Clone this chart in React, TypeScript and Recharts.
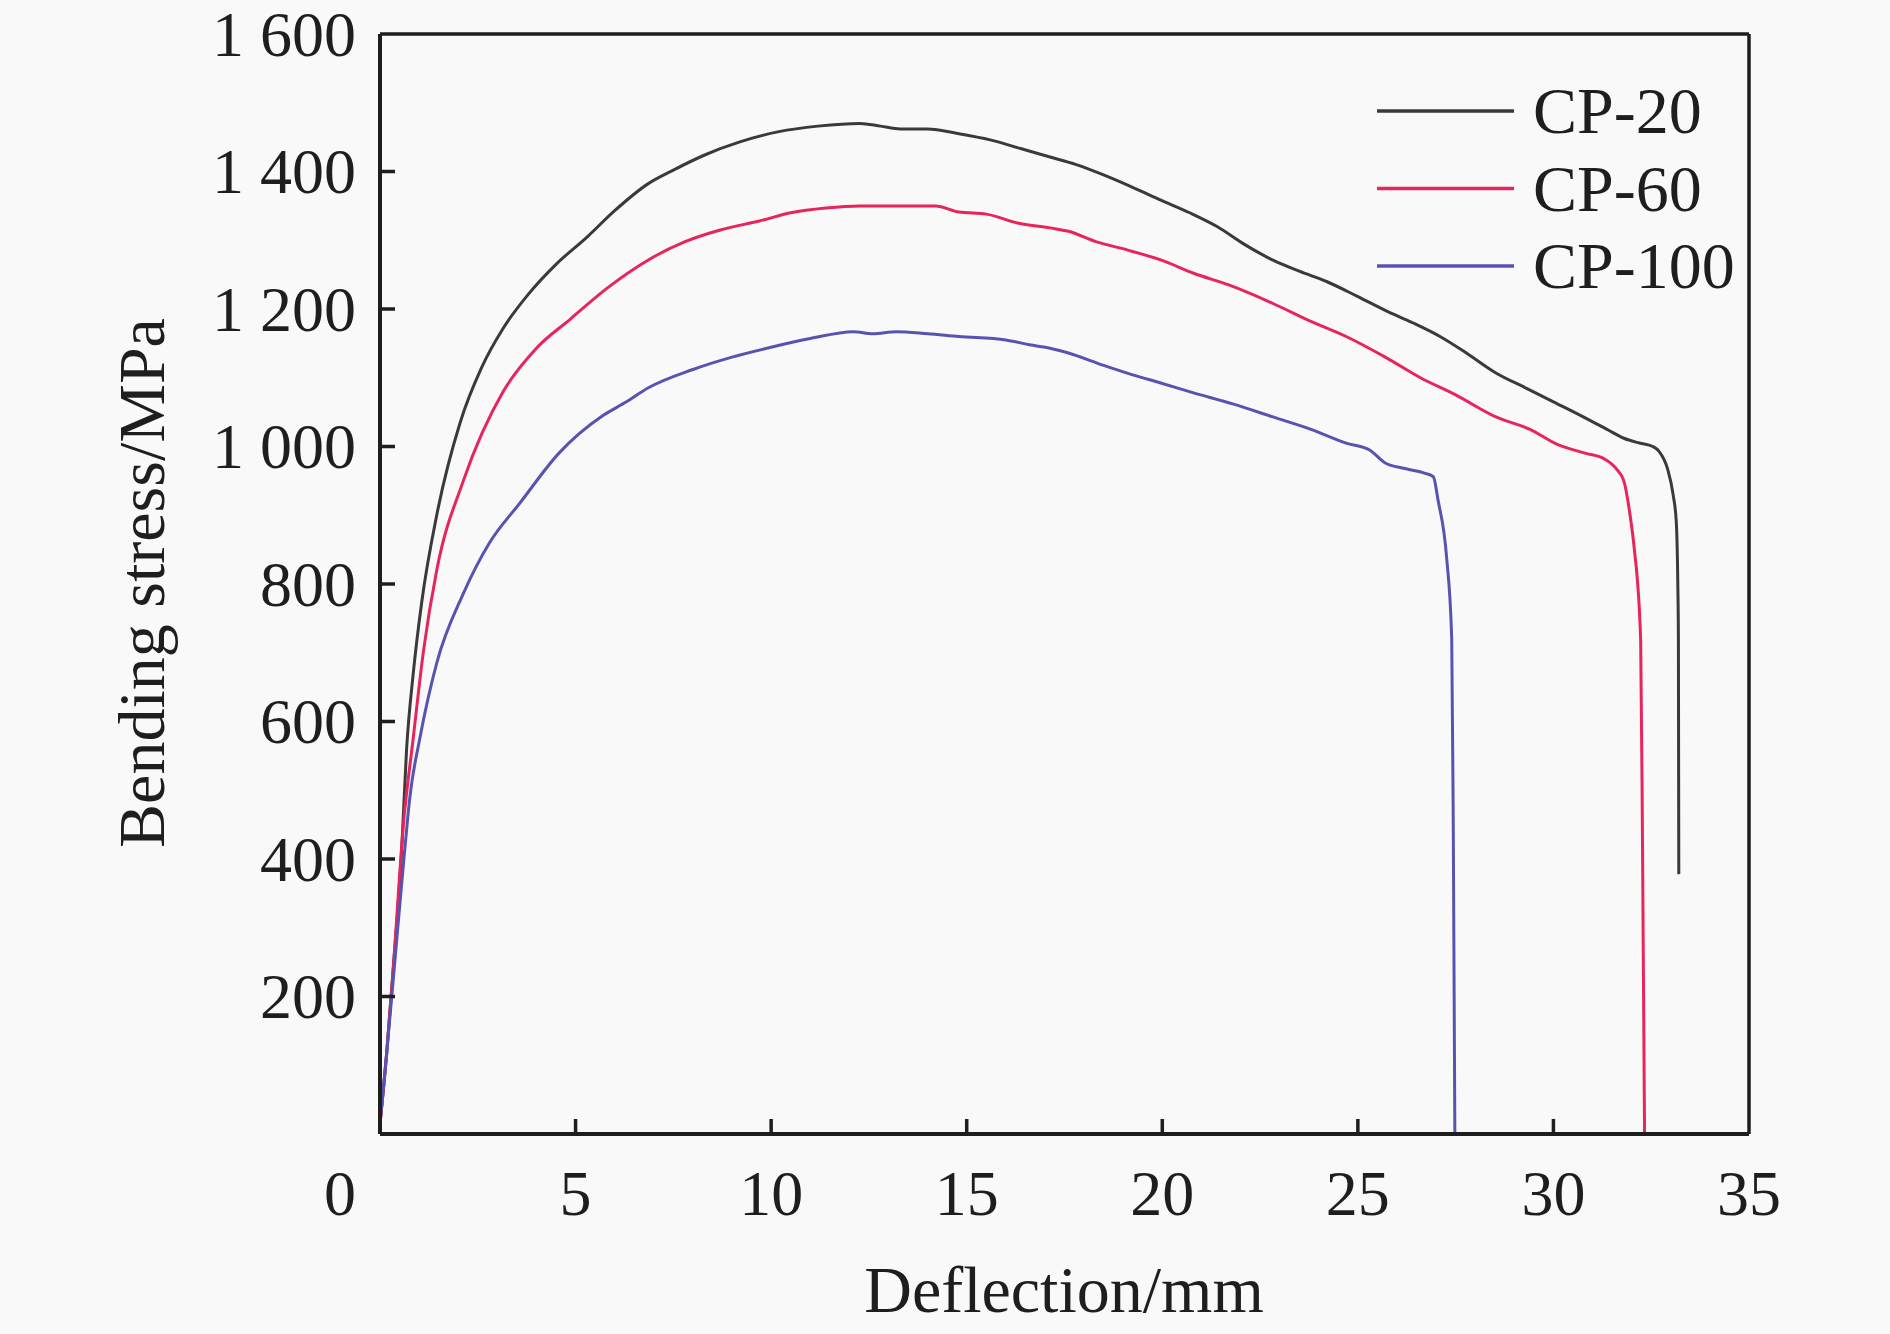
import React from "react";
import { LineChart, Line, XAxis, YAxis, ReferenceLine, Legend } from "recharts";

const xTicks = [0, 5, 10, 15, 20, 25, 30, 35];
const yTicks = [0, 200, 400, 600, 800, 1000, 1200, 1400, 1600];

const seriesNames = ["CP-20", "CP-60", "CP-100"];
const seriesColors = ["#3a3a3a", "#e8245c", "#5753b0"];

const cp20: [number, number][] = [
  [0, 15], [0.17, 117], [0.34, 242], [0.55, 409], [0.68, 560], [0.85, 670], [1.07, 775],
  [1.45, 900], [2.05, 1035], [2.6, 1115], [3.15, 1172], [3.8, 1222], [4.5, 1265], [5.3, 1305],
  [6.0, 1343], [6.85, 1382], [7.5, 1402], [8.3, 1424], [9.2, 1443], [10.2, 1458], [11.2, 1466],
  [12.27, 1470], [12.8, 1466], [13.3, 1462], [14.0, 1462], [14.8, 1455], [15.6, 1446],
  [16.4, 1433], [17.13, 1421], [17.8, 1410], [18.5, 1395], [19.2, 1378], [19.98, 1358],
  [20.7, 1340], [21.4, 1320], [22.1, 1294], [22.83, 1271], [23.5, 1255], [24.2, 1240],
  [25.0, 1218], [25.7, 1198], [26.4, 1180], [27.1, 1160], [27.8, 1135], [28.53, 1107],
  [29.3, 1085], [30.0, 1065], [30.7, 1045], [31.4, 1024], [31.8, 1012], [32.2, 1005],
  [32.54, 1000], [32.7, 993], [32.92, 967], [33.06, 930], [33.14, 891], [33.18, 800],
  [33.195, 720], [33.2, 550], [33.205, 378],
];

const cp60: [number, number][] = [
  [0, 15], [0.17, 117], [0.34, 242], [0.6, 451], [0.85, 576], [1.11, 702], [1.45, 820],
  [2.13, 950], [3.15, 1080], [4.0, 1143], [4.86, 1185], [5.8, 1230], [6.85, 1271], [7.8, 1298],
  [8.7, 1315], [9.7, 1328], [10.5, 1340], [11.4, 1347], [12.27, 1350], [13.2, 1350],
  [14.2, 1350], [14.8, 1341], [15.5, 1338], [16.3, 1325], [17.13, 1318], [17.6, 1313],
  [18.3, 1298], [19.1, 1286], [19.98, 1271], [20.8, 1252], [21.7, 1235], [22.83, 1208],
  [23.8, 1182], [24.7, 1160], [25.7, 1130], [26.6, 1100], [27.5, 1075], [28.53, 1043],
  [29.4, 1025], [30.1, 1003], [30.83, 990], [31.3, 982], [31.63, 966], [31.8, 950],
  [31.96, 900], [32.06, 855], [32.23, 720], [32.28, 400], [32.33, 0],
];

const cp100: [number, number][] = [
  [0, 15], [0.17, 117], [0.43, 284], [0.6, 393], [0.77, 493], [1.02, 576], [1.45, 685],
  [2.13, 786], [2.8, 860], [3.58, 918], [4.57, 990], [5.7, 1045], [6.3, 1065], [6.85, 1085],
  [8.0, 1112], [9.0, 1130], [9.97, 1144], [11.0, 1157], [12.1, 1167], [12.6, 1164],
  [13.2, 1167], [14.0, 1164], [14.8, 1160], [16.0, 1155], [16.6, 1148], [17.13, 1143],
  [17.6, 1136], [18.5, 1118], [19.2, 1105], [19.98, 1092], [20.8, 1078], [21.8, 1062],
  [22.83, 1043], [23.8, 1025], [24.7, 1005], [25.3, 995], [25.7, 976], [26.2, 968],
  [26.72, 961], [26.93, 956], [27.05, 922], [27.27, 838], [27.4, 720], [27.44, 442],
  [27.48, 0],
];

const toRows = (pts: [number, number][]) => pts.map(([x, y]) => ({ x, y }));
const seriesData = [toRows(cp20), toRows(cp60), toRows(cp100)];

const FONT = '"Liberation Serif", "Times New Roman", serif';
const INK = "#1e1e1e";

const fmtY = (v: number) =>
  v >= 1000 ? `${Math.floor(v / 1000)} ${String(v % 1000).padStart(3, "0")}` : String(v);

const YTick = (props: any) => {
  const { x, y, payload } = props;
  const v = payload.value;
  if (v === 0) return null;
  return (
    <g>
      {v !== 1600 && <line x1={x} x2={x + 15} y1={y} y2={y} stroke={INK} strokeWidth={3.5} />}
      <text x={x - 24} y={y} dy="0.34em" textAnchor="end" fontSize={64} fontFamily={FONT} fill={INK}>
        {fmtY(v)}
      </text>
    </g>
  );
};

const XTick = (props: any) => {
  const { x, y, payload } = props;
  const v = payload.value;
  return (
    <g>
      {v !== 0 && v !== 35 && <line x1={x} x2={x} y1={y} y2={y - 15} stroke={INK} strokeWidth={3.5} />}
      <text x={v === 0 ? x - 40 : x} y={y + 81} textAnchor="middle" fontSize={64} fontFamily={FONT} fill={INK}>
        {v}
      </text>
    </g>
  );
};

const LegendBox = () => (
  <svg width={420} height={240} style={{ display: "block" }}>
    {seriesNames.map((n, i) => (
      <g key={n}>
        <line x1={7} x2={144} y1={41 + i * 77.5} y2={41 + i * 77.5} stroke={seriesColors[i]} strokeWidth={3.5} />
        <text x={163} y={41 + i * 77.5} dy="0.34em" fontSize={66} fontFamily={FONT} fill={INK}>
          {n}
        </text>
      </g>
    ))}
  </svg>
);

export default function App() {
  return (
    <div style={{ position: "absolute", left: 0, top: 0, width: 1890, height: 1334, background: "#f9f9f9" }}>
      <LineChart
        width={1890}
        height={1334}
        margin={{ top: 34, right: 141, bottom: 199, left: 379 }}
      >
        <XAxis
          type="number"
          dataKey="x"
          domain={[0, 35]}
          ticks={xTicks}
          allowDataOverflow
          height={1}
          tickSize={0}
          tickMargin={0}
          tickLine={false}
          axisLine={{ stroke: INK, strokeWidth: 4 }}
          tick={<XTick />}
          interval={0}
        />
        <YAxis
          type="number"
          dataKey="y"
          domain={[0, 1600]}
          ticks={yTicks}
          allowDataOverflow
          width={1}
          tickSize={0}
          tickMargin={0}
          tickLine={false}
          axisLine={{ stroke: INK, strokeWidth: 4 }}
          tick={<YTick />}
          interval={0}
        />
        <ReferenceLine y={1600} stroke={INK} strokeWidth={3.5} ifOverflow="visible" />
        <ReferenceLine x={35} stroke={INK} strokeWidth={3.5} ifOverflow="visible" />
        {seriesNames.map((n, i) => (
          <Line
            key={n}
            name={n}
            data={seriesData[i]}
            dataKey="y"
            type="monotone"
            stroke={seriesColors[i]}
            strokeWidth={3}
            dot={false}
            activeDot={false}
            isAnimationActive={false}
          />
        ))}
        <Legend
          layout="vertical"
          align="center"
          verticalAlign="middle"
          content={<LegendBox />}
          wrapperStyle={{ position: "absolute", left: 1370, top: 70, width: 420, height: 240 }}
        />
      </LineChart>
      <div
        style={{
          position: "absolute",
          left: 0,
          width: 1890,
          top: 1250,
          textAlign: "center",
          paddingLeft: 238,
          boxSizing: "border-box",
          fontFamily: FONT,
          fontSize: 66,
          color: INK,
          lineHeight: "80px",
        }}
      >
        Deflection/mm
      </div>
      <div
        style={{
          position: "absolute",
          left: 142,
          top: 583,
          transform: "translate(-50%, -50%) rotate(-90deg)",
          whiteSpace: "nowrap",
          fontFamily: FONT,
          fontSize: 66,
          color: INK,
          lineHeight: "80px",
        }}
      >
        Bending stress/MPa
      </div>
    </div>
  );
}
